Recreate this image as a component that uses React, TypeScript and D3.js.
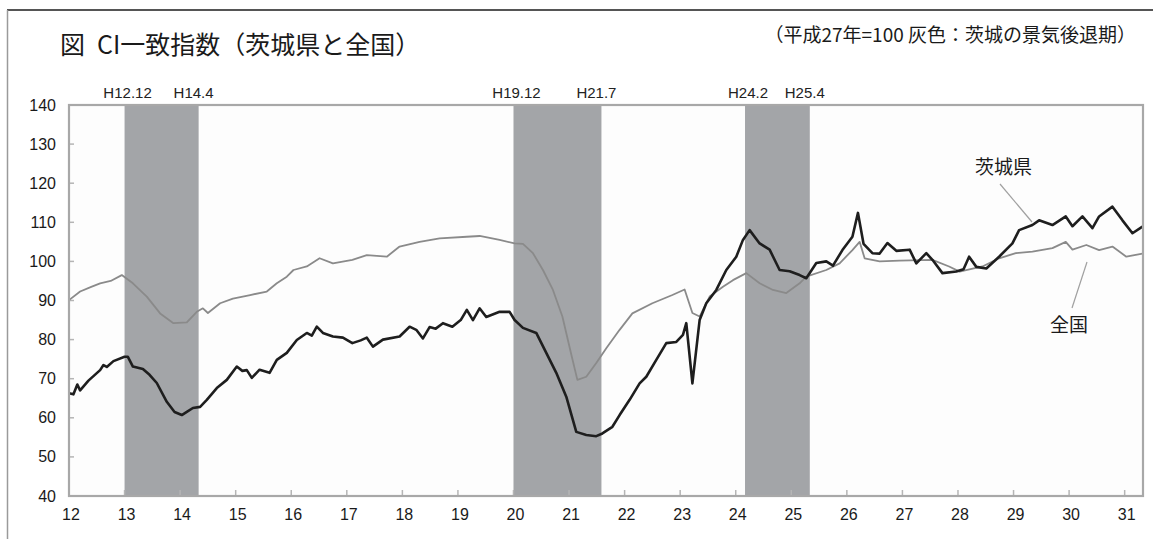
import React from "react";
import * as d3 from "d3";

// Time in decimal Heisei years (year + month/12), values indexed to H27 = 100
const ibarakiT = [12.0, 12.08, 12.15, 12.2, 12.35, 12.56, 12.62, 12.68, 12.8, 13.0, 13.06, 13.15, 13.33, 13.45, 13.58, 13.76, 13.9, 14.03, 14.12, 14.23, 14.36, 14.48, 14.66, 14.84, 15.02, 15.12, 15.2, 15.29, 15.43, 15.61, 15.74, 15.92, 16.1, 16.28, 16.37, 16.46, 16.57, 16.75, 16.93, 17.1, 17.25, 17.36, 17.47, 17.65, 17.95, 18.13, 18.25, 18.37, 18.49, 18.6, 18.73, 18.9, 19.05, 19.16, 19.27, 19.39, 19.51, 19.75, 19.93, 20.02, 20.17, 20.41, 20.59, 20.77, 20.95, 21.07, 21.13, 21.31, 21.49, 21.6, 21.78, 21.91, 22.09, 22.27, 22.39, 22.57, 22.75, 22.93, 23.05, 23.11, 23.22, 23.35, 23.47, 23.65, 23.83, 24.01, 24.13, 24.25, 24.43, 24.61, 24.79, 24.97, 25.15, 25.27, 25.45, 25.63, 25.75, 25.92, 26.1, 26.2, 26.3, 26.46, 26.59, 26.73, 26.89, 27.13, 27.25, 27.43, 27.54, 27.72, 27.97, 28.1, 28.2, 28.33, 28.51, 28.74, 28.98, 29.1, 29.34, 29.46, 29.7, 29.94, 30.06, 30.24, 30.42, 30.54, 30.78, 30.96, 31.14, 31.32];
const ibarakiV = [66.3, 66.0, 68.5, 67.0, 69.5, 72.2, 73.5, 73.0, 74.5, 75.6, 75.6, 73.1, 72.5, 71.0, 68.9, 64.1, 61.5, 60.7, 61.5, 62.5, 62.8, 64.6, 67.6, 69.7, 73.1, 72.0, 72.2, 70.2, 72.3, 71.5, 74.8, 76.6, 79.9, 81.7, 81.0, 83.3, 81.7, 80.8, 80.5, 79.1, 79.8, 80.5, 78.2, 80.0, 80.8, 83.3, 82.5, 80.3, 83.2, 82.8, 84.2, 83.3, 85.0, 87.6, 85.0, 88.0, 85.8, 87.1, 87.1, 85.0, 83.0, 81.7, 76.6, 71.5, 65.4, 59.4, 56.4, 55.6, 55.3, 56.0, 57.7, 60.7, 64.6, 68.8, 70.5, 74.8, 79.1, 79.4, 81.2, 84.2, 68.8, 85.0, 89.3, 92.7, 97.8, 101.2, 105.5, 108.0, 104.6, 103.0, 97.8, 97.5, 96.5, 95.7, 99.6, 100.0, 98.9, 102.9, 106.3, 112.4, 104.5, 102.1, 102.0, 104.7, 102.7, 103.0, 99.5, 102.1, 100.4, 97.0, 97.4, 98.0, 101.2, 98.6, 98.2, 101.2, 104.6, 108.0, 109.3, 110.5, 109.3, 111.5, 109.0, 111.5, 108.5, 111.5, 114.0, 110.5, 107.2, 108.9];

const zenkokuT = [12.0, 12.2, 12.4, 12.56, 12.75, 12.95, 13.15, 13.4, 13.64, 13.88, 14.12, 14.3, 14.41, 14.5, 14.72, 14.95, 15.26, 15.56, 15.74, 15.92, 16.04, 16.28, 16.51, 16.75, 17.1, 17.36, 17.72, 17.95, 18.31, 18.67, 19.16, 19.39, 19.75, 20.02, 20.17, 20.35, 20.53, 20.71, 20.88, 21.05, 21.15, 21.31, 21.49, 21.67, 21.91, 22.14, 22.5, 22.86, 23.08, 23.22, 23.35, 23.53, 23.77, 23.95, 24.19, 24.43, 24.67, 24.91, 25.15, 25.27, 25.63, 25.87, 26.1, 26.23, 26.32, 26.59, 26.95, 27.54, 27.84, 28.03, 28.44, 28.74, 29.04, 29.34, 29.7, 29.94, 30.06, 30.31, 30.54, 30.78, 31.03, 31.32];
const zenkokuV = [90.1, 92.3, 93.5, 94.4, 95.0, 96.5, 94.4, 91.0, 86.7, 84.2, 84.4, 87.1, 88.0, 86.8, 89.3, 90.5, 91.4, 92.3, 94.4, 96.1, 97.8, 98.7, 100.8, 99.5, 100.4, 101.6, 101.2, 103.8, 105.0, 105.9, 106.3, 106.5, 105.5, 104.6, 104.5, 102.1, 97.8, 92.7, 85.9, 75.6, 69.7, 70.5, 74.0, 77.8, 82.5, 86.7, 89.3, 91.4, 92.8, 86.8, 85.9, 91.0, 93.5, 95.2, 97.0, 94.4, 92.7, 91.9, 94.4, 96.1, 97.8, 99.5, 102.9, 105.0, 100.8, 100.0, 100.2, 100.4, 98.7, 97.4, 98.7, 100.8, 102.1, 102.5, 103.4, 105.0, 103.0, 104.2, 102.9, 103.8, 101.2, 102.0];

// Recession periods (Ibaraki): start / end in decimal years and labels
const recessionStart = [13.0, 20.0, 24.167];
const recessionEnd = [14.333, 21.583, 25.333];
const recessionStartLabel = ["H12.12", "H19.12", "H24.2"];
const recessionEndLabel = ["H14.4", "H21.7", "H25.4"];

const xTicks = [12, 13, 14, 15, 16, 17, 18, 19, 20, 21, 22, 23, 24, 25, 26, 27, 28, 29, 30, 31];
const yTicks = [40, 50, 60, 70, 80, 90, 100, 110, 120, 130, 140];

const W = 1153;
const H = 539;
const plot = { left: 69, right: 1143, top: 105, bottom: 496 };

export default function App() {
  const x = d3.scaleLinear().domain([12, 31.33]).range([plot.left, plot.right]);
  const y = d3.scaleLinear().domain([40, 140]).range([plot.bottom, plot.top]);

  const line = d3
    .line<[number, number]>()
    .x((d) => x(d[0]))
    .y((d) => y(d[1]))
    .curve(d3.curveLinear);

  const ibaraki: [number, number][] = ibarakiT.map((t, i) => [t, ibarakiV[i]]);
  const zenkoku: [number, number][] = zenkokuT.map((t, i) => [t, zenkokuV[i]]);

  const numFont = "'Liberation Sans', Arial, sans-serif";
  const jpFont = "'Noto Sans CJK JP', 'Noto Sans CJK SC', sans-serif";

  return (
    <svg
      width={W}
      height={H}
      viewBox={`0 0 ${W} ${H}`}
      style={{ position: "absolute", left: 0, top: 0, display: "block", background: "#ffffff" }}
    >
      {/* outer figure frame */}
      <line x1={7} y1={10} x2={W} y2={10} stroke="#555" strokeWidth={2.2} />
      <line x1={7.5} y1={10} x2={7.5} y2={H} stroke="#9a9a9a" strokeWidth={1.5} />

      {/* titles */}
      <text x={60} y={54} fontFamily={jpFont} fontSize={25} fontWeight={400} fill="#1a1a1a">
        図
      </text>
      <text x={97} y={54} fontFamily={jpFont} fontSize={25} fontWeight={400} fill="#1a1a1a">
        CI一致指数（茨城県と全国）
      </text>
      <text x={1136} y={42} textAnchor="end" fontFamily={jpFont} fontSize={19} fill="#1a1a1a">
        （平成27年=100 灰色：茨城の景気後退期）
      </text>

      {/* plot background */}
      <rect x={plot.left} y={plot.top} width={plot.right - plot.left} height={plot.bottom - plot.top} fill="#fdfdfd" />

      {/* recession bands */}
      {recessionStart.map((s, i) => (
        <rect
          key={"band" + i}
          x={x(s)}
          y={plot.top}
          width={x(recessionEnd[i]) - x(s)}
          height={plot.bottom - plot.top}
          fill="#a3a5a8"
        />
      ))}

      {/* recession labels */}
      {recessionStart.map((s, i) => (
        <g key={"lab" + i} fontFamily={numFont} fontSize={15} fill="#222">
          <text x={x(s) + 3} y={98} textAnchor="middle">
            {recessionStartLabel[i]}
          </text>
          <text x={x(recessionEnd[i]) - 5} y={98} textAnchor="middle">
            {recessionEndLabel[i]}
          </text>
        </g>
      ))}

      {/* tick marks */}
      {xTicks.map((t) => (
        <line key={"xt" + t} x1={x(t)} x2={x(t)} y1={plot.bottom} y2={plot.bottom - 6} stroke="#b5b5b5" strokeWidth={1.5} />
      ))}
      {yTicks.map((t) => (
        <line key={"yt" + t} x1={plot.left} x2={plot.left + 5} y1={y(t)} y2={y(t)} stroke="#b5b5b5" strokeWidth={1.5} />
      ))}

      {/* series */}
      <path d={line(zenkoku) || ""} fill="none" stroke="#8a8a8a" strokeWidth={1.8} strokeLinejoin="round" />
      <path d={line(ibaraki) || ""} fill="none" stroke="#1e1e1e" strokeWidth={2.6} strokeLinejoin="round" />

      {/* plot frame */}
      <rect
        x={plot.left}
        y={plot.top}
        width={plot.right - plot.left}
        height={plot.bottom - plot.top}
        fill="none"
        stroke="#a8a8a8"
        strokeWidth={2.2}
      />

      {/* axis labels */}
      {yTicks.map((t) => (
        <text key={"yl" + t} x={56} y={y(t) + 5.5} textAnchor="end" fontFamily={numFont} fontSize={16} fill="#1a1a1a">
          {t}
        </text>
      ))}
      {xTicks.map((t) => (
        <text key={"xl" + t} x={x(t) + 2} y={520} textAnchor="middle" fontFamily={numFont} fontSize={16} fill="#1a1a1a">
          {t}
        </text>
      ))}

      {/* series annotations */}
      <line x1={1000} y1={184} x2={1032} y2={222} stroke="#a0a0a0" strokeWidth={1.2} />
      <text x={975} y={174} fontFamily={jpFont} fontSize={19} fill="#1a1a1a">
        茨城県
      </text>
      <line x1={1072} y1={308} x2={1087} y2={262} stroke="#a0a0a0" strokeWidth={1.2} />
      <text x={1050} y={332} fontFamily={jpFont} fontSize={19} fill="#1a1a1a">
        全国
      </text>
    </svg>
  );
}
